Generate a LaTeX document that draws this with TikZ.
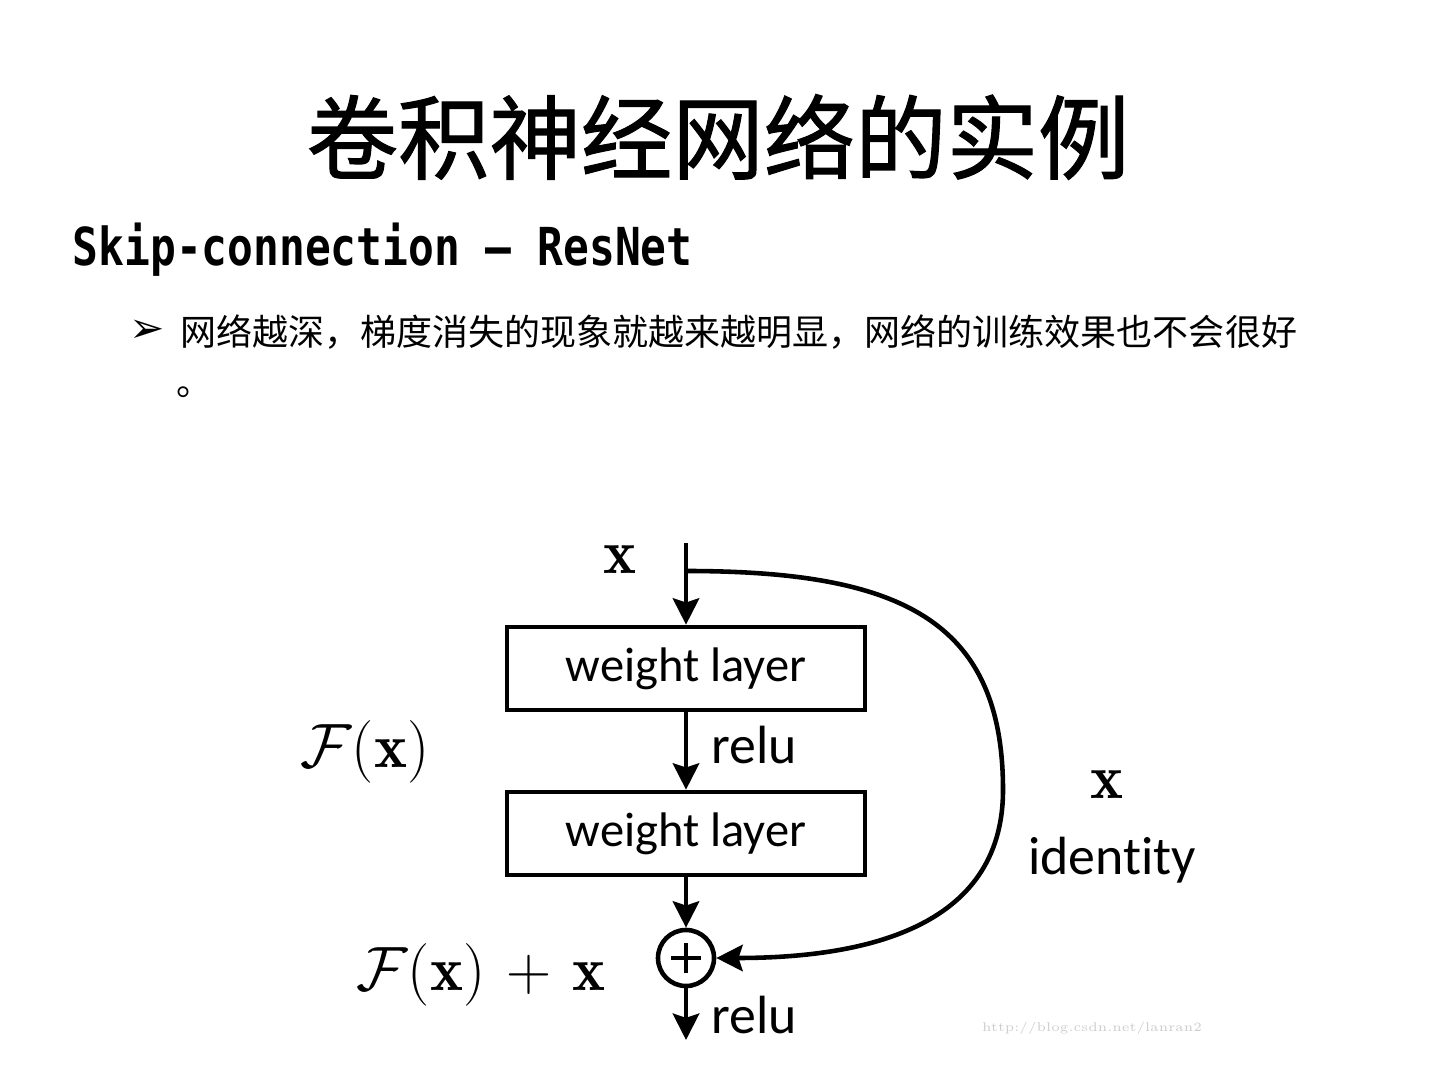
\RequirePackage{fix-cm}
\documentclass[tikz,border=0pt]{standalone}
\usepackage{amsmath,amssymb}
\usepackage{fontspec}
\newfontfamily\cjk{Noto Sans CJK SC}
\newfontfamily\cjktitle[FakeBold=1.2]{Noto Sans CJK SC}
\newfontfamily\calibri[Ligatures=NoCommon]{Carlito}
\newfontfamily\skipmono{DejaVu Sans Mono}
\newfontfamily\dingfont{DejaVu Sans}
\usetikzlibrary{arrows.meta,positioning}

\begin{document}
\begin{tikzpicture}[x=0.01cm,y=-0.01cm]
\tikzset{
  layerbox/.style={rectangle,draw,line width=1.3pt,minimum width=3.58cm,minimum height=0.83cm,inner sep=0pt,font=\calibri\fontsize{13.8}{16}\selectfont},
  sumnode/.style={circle,draw,line width=1.3pt,minimum size=0.56cm,inner sep=0pt,
    path picture={\draw[line width=1.3pt] ([xshift=-0.15cm]path picture bounding box.center) -- ([xshift=0.15cm]path picture bounding box.center);
                  \draw[line width=1.3pt] ([yshift=-0.15cm]path picture bounding box.center) -- ([yshift=0.15cm]path picture bounding box.center);}},
  directed/.style={-{Stealth[length=7.5pt,width=7.5pt,inset=1.2pt]},line width=1.3pt},
  mathlabel/.style={inner sep=0pt,font=\fontsize{17.8}{21}\selectfont},
  wordlabel/.style={inner sep=0pt,font=\calibri\fontsize{15.3}{18}\selectfont}
}
\useasboundingbox (0,0) rectangle (1440,1080);
\node (title) at (718,137) {\cjktitle\fontsize{26}{30}\selectfont 卷积神经网络的实例};
\node[anchor=base west,inner sep=0pt] (subtitle) at (72,266) {\scalebox{1}[1.22]{\skipmono\bfseries\fontsize{12.2}{14}\selectfont Skip-connection – ResNet}};
\node[inner sep=0pt] (bullet) at (147,331) {\dingfont\fontsize{12}{14}\selectfont ➢};
\node[anchor=base west,inner sep=0pt] (line_a) at (180,346) {\cjk\fontsize{10.24}{13}\selectfont 网络越深，梯度消失的现象就越来越明显，网络的训练效果也不会很好};
\node[anchor=base west,inner sep=0pt] (line_b) at (176,396) {\cjk\fontsize{10.24}{13}\selectfont 。};
\node[layerbox] (layer_1) at (686,668.5) {weight layer};
\node[layerbox] (layer_2) at (686,833.5) {weight layer};
\node[sumnode] (sum) at (686,958) {};
\coordinate (in) at (686,543);
\coordinate (split) at (686,571);
\coordinate (out) at (686,1040);
\node[mathlabel] (x_top) at (620,560) {$\mathbf{x}$};
\node[mathlabel] (f_x) at (365,752) {$\mathcal{F}(\mathbf{x})$};
\node[mathlabel] (f_sum) at (481,975) {$\mathcal{F}(\mathbf{x})\mkern2mu+\mkern2mu\mathbf{x}$};
\node[mathlabel] (x_right) at (1107,785) {$\mathbf{x}$};
\node[wordlabel,anchor=west] (relu_1) at (711,745) {relu};
\node[wordlabel,anchor=west] (relu_2) at (711,1015) {relu};
\node[wordlabel] (identity) at (1112,860) {identity};
\node[inner sep=0pt,text=gray!40] (mark) at (1092,1028) {\rmfamily\fontsize{3.6}{4}\selectfont http://blog.csdn.net/lanran2};
\draw[directed] (in) -- (layer_1);
\draw[directed] (layer_1) -- (layer_2);
\draw[directed] (layer_2) -- (sum);
\draw[directed] (sum) -- (out);
\draw[directed] (split) .. controls (900,571) and (1003,620) .. (1003,790) .. controls (1003,930) and (860,958) .. (sum.east);
\end{tikzpicture}
\end{document}
